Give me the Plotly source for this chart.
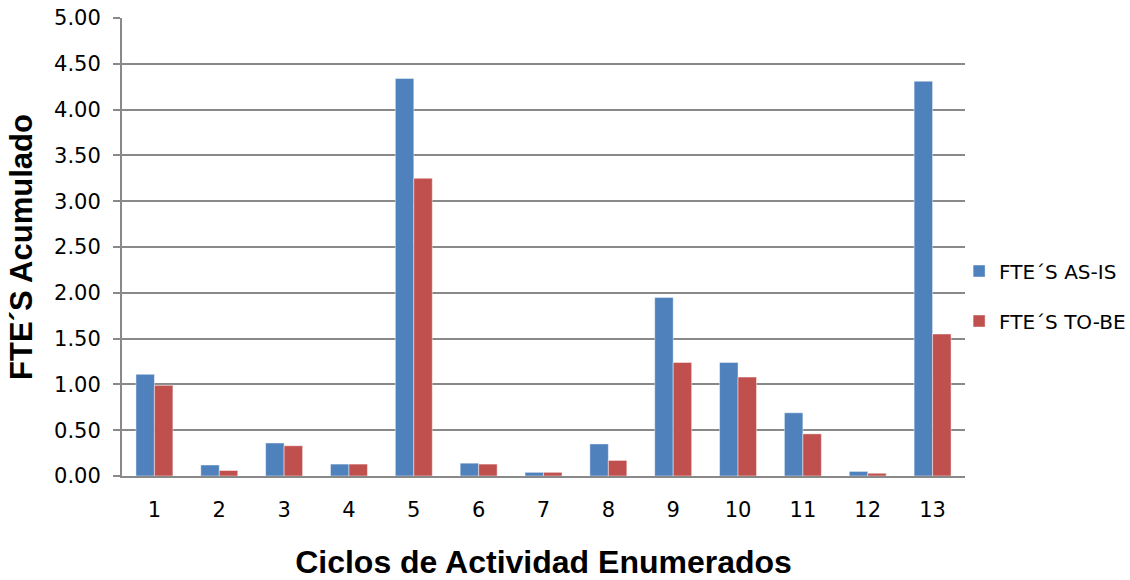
import plotly.graph_objects as go

ciclos = ["1", "2", "3", "4", "5", "6", "7", "8", "9", "10", "11", "12", "13"]
fte_as_is = [1.11, 0.12, 0.36, 0.13, 4.34, 0.14, 0.04, 0.35, 1.95, 1.24, 0.69, 0.05, 4.31]
fte_to_be = [0.99, 0.06, 0.33, 0.13, 3.25, 0.13, 0.04, 0.17, 1.24, 1.08, 0.46, 0.03, 1.55]

AZUL = "#4F81BD"
ROJO = "#C0504D"
GRIS = "#898989"

fig = go.Figure()
fig.add_trace(go.Bar(
    x=ciclos, y=fte_as_is, name="FTE´S AS-IS", legendgroup="a",
    marker=dict(color=AZUL, line=dict(color="rgba(255,255,255,0.45)", width=1)),
))
fig.add_trace(go.Bar(
    x=ciclos, y=fte_to_be, name="FTE´S TO-BE", legendgroup="b",
    marker=dict(color=ROJO, line=dict(color="rgba(255,255,255,0.45)", width=1)),
))

fig.update_layout(
    width=1130, height=580,
    margin=dict(l=122, r=165, t=18, b=104, autoexpand=False),
    paper_bgcolor="white", plot_bgcolor="white",
    barmode="group", bargap=0.43, bargroupgap=0,
    font=dict(family="DejaVu Sans", size=21, color="black"),
    showlegend=True,
    legend=dict(
        x=0.993, xanchor="left", y=0.393, yanchor="middle",
        font=dict(family="DejaVu Sans", size=20, color="black"),
        tracegroupgap=21, bgcolor="rgba(0,0,0,0)",
    ),
    xaxis=dict(
        type="category",
        showline=True, linecolor=GRIS, linewidth=2,
        ticks="", showgrid=False,
        ticklabelstandoff=14,
        title=dict(text="Ciclos de Actividad Enumerados",
                   font=dict(family="Liberation Sans", size=32, color="black", weight="bold"),
                   standoff=32),
    ),
    yaxis=dict(
        range=[0, 5], dtick=0.5, tickformat=".2f",
        showline=True, linecolor=GRIS, linewidth=2,
        ticks="outside", ticklen=7, tickcolor=GRIS, tickwidth=2,
        showgrid=True, gridcolor=GRIS, gridwidth=2,
        zeroline=False,
        ticklabelstandoff=8,
        title=dict(text="FTE´S Acumulado",
                   font=dict(family="Liberation Sans", size=31, color="black", weight="bold"),
                   standoff=12),
    ),
)

fig.write_html("out.html")
